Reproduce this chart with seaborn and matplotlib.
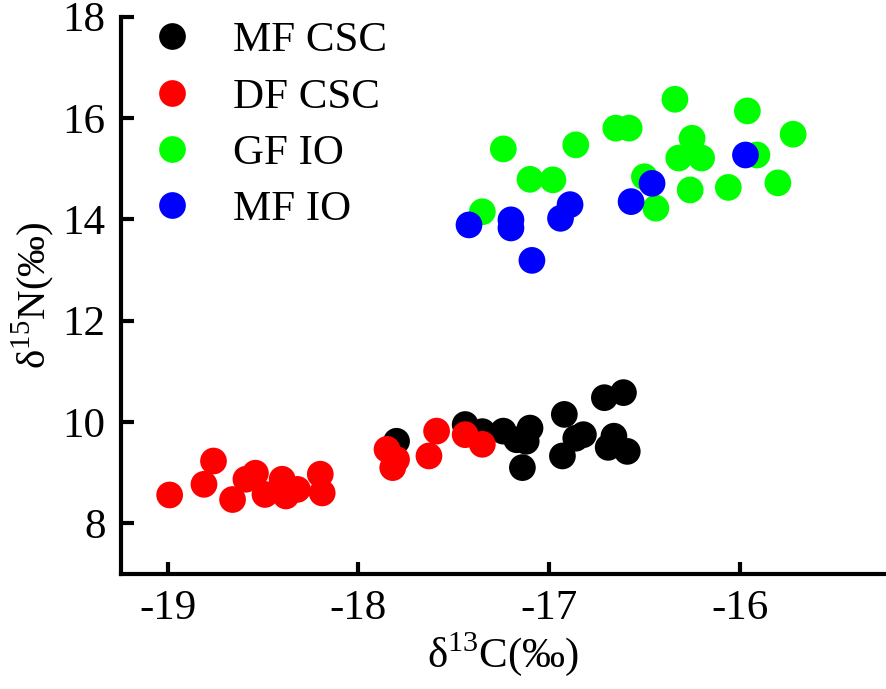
import pandas as pd
import numpy as np
import matplotlib
matplotlib.use("Agg")
import matplotlib.pyplot as plt
import seaborn as sns

# d13C / d15N values
mf_csc_c = [-17.80, -17.44, -17.35, -17.24, -17.10, -17.17, -17.12, -17.14,
            -16.92, -16.93, -16.82, -16.86, -16.71, -16.61, -16.66, -16.69, -16.59]
mf_csc_n = [9.62, 9.95, 9.81, 9.82, 9.88, 9.65, 9.62, 9.10,
            10.15, 9.33, 9.75, 9.68, 10.48, 10.58, 9.72, 9.50, 9.42]

df_csc_c = [-18.99, -18.81, -18.76, -18.66, -18.59, -18.54, -18.49, -18.40, -18.38,
            -18.32, -18.20, -18.19, -17.85, -17.80, -17.82, -17.59, -17.63, -17.44, -17.35]
df_csc_n = [8.56, 8.77, 9.23, 8.47, 8.87, 8.99, 8.57, 8.87, 8.54,
            8.67, 8.97, 8.60, 9.46, 9.26, 9.10, 9.82, 9.33, 9.75, 9.56]

gf_io_c = [-16.34, -15.96, -17.24, -16.86, -16.65, -16.58, -16.25, -15.72, -16.32, -16.20,
           -15.91, -17.10, -16.98, -16.50, -16.26, -16.06, -15.80, -17.35, -16.44]
gf_io_n = [16.37, 16.14, 15.39, 15.47, 15.80, 15.80, 15.60, 15.68, 15.21, 15.21,
           15.27, 14.79, 14.78, 14.84, 14.58, 14.63, 14.72, 14.15, 14.22]

mf_io_c = [-15.97, -16.46, -16.57, -16.89, -16.94, -17.20, -17.20, -17.42, -17.09]
mf_io_n = [15.27, 14.71, 14.35, 14.29, 14.02, 13.99, 13.83, 13.89, 13.19]

groups = ["MF CSC", "DF CSC", "GF IO", "MF IO"]
colors = ["#000000", "#ff0000", "#00ff00", "#0000ff"]

df = pd.concat([
    pd.DataFrame({"c": mf_csc_c, "n": mf_csc_n, "group": "MF CSC"}),
    pd.DataFrame({"c": df_csc_c, "n": df_csc_n, "group": "DF CSC"}),
    pd.DataFrame({"c": gf_io_c, "n": gf_io_n, "group": "GF IO"}),
    pd.DataFrame({"c": mf_io_c, "n": mf_io_n, "group": "MF IO"}),
], ignore_index=True)

sns.set_style("ticks", {"axes.edgecolor": "black", "xtick.color": "black",
                        "ytick.color": "black", "text.color": "black",
                        "axes.labelcolor": "black"})
plt.rcParams['font.family'] = ['Liberation Serif', 'DejaVu Serif']
plt.rcParams['mathtext.fontset'] = 'custom'
plt.rcParams['mathtext.rm'] = 'Liberation Serif'
plt.rcParams['axes.unicode_minus'] = False

fig = plt.figure(figsize=(8.86, 6.89), dpi=100)
ax = fig.add_axes([0.1366, 0.1669, 1.0 - 0.1366, 0.9758 - 0.1669])

sns.scatterplot(data=df, x="c", y="n", hue="group", hue_order=groups,
                palette=dict(zip(groups, colors)), s=370, linewidth=0,
                alpha=1, ax=ax)

ax.set_xlim(-19.245, -15.233)
ax.set_ylim(7.0, 18.0)
ax.set_xticks([-19, -18, -17, -16])
ax.set_yticks([8, 10, 12, 14, 16, 18])

for side in ["top", "right"]:
    ax.spines[side].set_visible(False)
for side in ["left", "bottom"]:
    ax.spines[side].set_linewidth(3)
ax.tick_params(direction="in", length=9, width=3, labelsize=31)
ax.tick_params(axis="x", pad=11)
ax.tick_params(axis="y", pad=11)

ax.set_xlabel("δ$^{\\mathrm{13}}$C(‰)", fontsize=31, labelpad=2)
ax.set_ylabel("δ$^{\\mathrm{15}}$N(‰)", fontsize=29.5, labelpad=4)

leg = ax.legend(loc="upper left", frameon=False, fontsize=31, markerscale=1.0,
                handlelength=1.0, handletextpad=0.92, labelspacing=0.40,
                borderaxespad=0, bbox_to_anchor=(0.0163, 1.023))

fig.savefig("out.png", dpi=100)
